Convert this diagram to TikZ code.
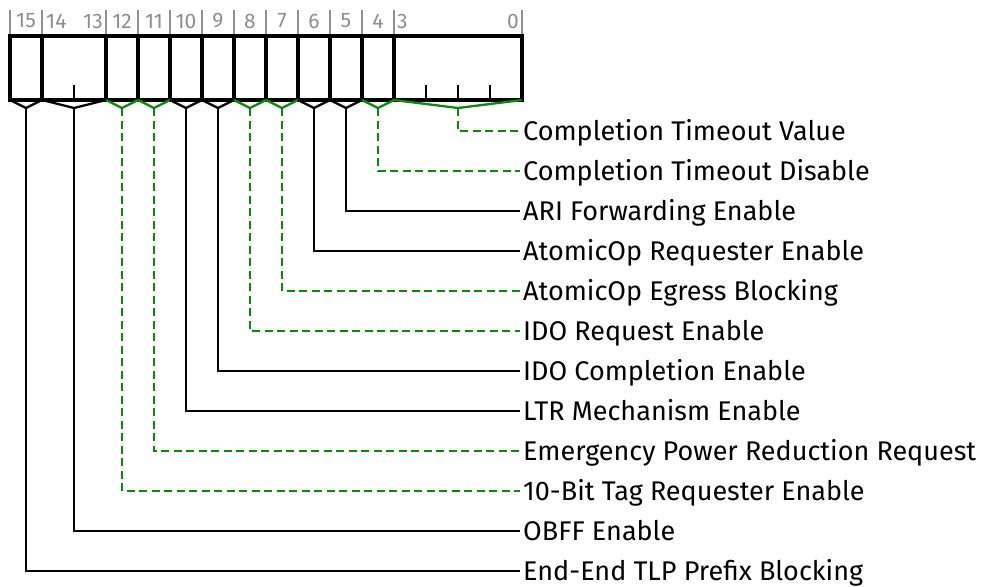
\documentclass[tikz,border=0pt]{standalone}
\usepackage{fontspec}
\setmainfont{Fira Sans}
\usetikzlibrary{positioning}
\definecolor{regink}{HTML}{000000}
\definecolor{reggreen}{HTML}{0A8A0A}
\definecolor{reggray}{HTML}{8E8E8E}
\tikzset{
  reg box/.style={draw=regink, line width=3.2pt, line join=miter},
  reg tick/.style={draw=regink, line width=2.3pt},
  reg mark/.style={draw=reggray, line width=2.3pt},
  reg bitnum/.style={font=\fontsize{21}{22}\selectfont, text=reggray, inner sep=0pt},
  reg brace/.style={draw=regink, line width=2.3pt, line join=miter},
  reg brace rsvd/.style={reg brace, draw=reggreen},
  reg lead/.style={draw=regink, line width=2.3pt},
  reg lead rsvd/.style={draw=reggreen, line width=2.3pt, dash pattern=on 8pt off 4.5pt},
  reg label/.style={anchor=west, font=\fontsize{27}{28}\selectfont, text=regink,
    inner xsep=3pt, inner ysep=0pt, text height=18pt, text depth=0pt}
}

\begin{document}
\begin{tikzpicture}[x=1pt, y=-1pt]
  \useasboundingbox (0,0) rectangle (981,586);
  % bit numbers
  \foreach \bx in {10,42,106,138,170,202,234,266,298,330,362,394,522}
    \draw[reg mark] (\bx,10) -- (\bx,36);
  \node[reg bitnum] (n15) at (26,21) {15};
  \node[reg bitnum, anchor=west] (n14) at (46,21) {14};
  \node[reg bitnum, anchor=east] (n13) at (103,21) {13};
  \node[reg bitnum] (n12) at (122,21) {12};
  \node[reg bitnum] (n11) at (154,21) {11};
  \node[reg bitnum] (n10) at (186,21) {10};
  \node[reg bitnum] (n9) at (218,21) {9};
  \node[reg bitnum] (n8) at (250,21) {8};
  \node[reg bitnum] (n7) at (282,21) {7};
  \node[reg bitnum] (n6) at (314,21) {6};
  \node[reg bitnum] (n5) at (346,21) {5};
  \node[reg bitnum] (n4) at (378,21) {4};
  \node[reg bitnum, anchor=west] (n3) at (397,21) {3};
  \node[reg bitnum, anchor=east] (n0) at (519,21) {0};
  % register
  \foreach \bx in {42,106,138,170,202,234,266,298,330,362,394}
    \draw[reg box] (\bx,36) -- (\bx,100);
  \foreach \bx in {74,426,458,490}
    \draw[reg tick] (\bx,85) -- (\bx,100);
  \draw[reg box] (10,36) rectangle (522,100);
  % field tips
  \coordinate (t15) at (26,108);
  \coordinate (t14) at (74,108);
  \coordinate (t12) at (122,108);
  \coordinate (t11) at (154,108);
  \coordinate (t10) at (186,108);
  \coordinate (t9) at (218,108);
  \coordinate (t8) at (250,108);
  \coordinate (t7) at (282,108);
  \coordinate (t6) at (314,108);
  \coordinate (t5) at (346,108);
  \coordinate (t4) at (378,108);
  \coordinate (t3) at (458,108);
  \draw[reg brace] (10,100) -- (t15) -- (42,100);
  \draw[reg brace] (42,100) -- (t14) -- (106,100);
  \draw[reg brace rsvd] (106,100) -- (t12) -- (138,100);
  \draw[reg brace rsvd] (138,100) -- (t11) -- (170,100);
  \draw[reg brace] (170,100) -- (t10) -- (202,100);
  \draw[reg brace] (202,100) -- (t9) -- (234,100);
  \draw[reg brace rsvd] (234,100) -- (t8) -- (266,100);
  \draw[reg brace rsvd] (266,100) -- (t7) -- (298,100);
  \draw[reg brace] (298,100) -- (t6) -- (330,100);
  \draw[reg brace] (330,100) -- (t5) -- (362,100);
  \draw[reg brace rsvd] (362,100) -- (t4) -- (394,100);
  \draw[reg brace rsvd] (394,100) -- (t3) -- (522,100);
  % field names
  \node[reg label] (l3) at (520,131) {Completion Timeout Value};
  \node[reg label] (l4) at (520,171) {Completion Timeout Disable};
  \node[reg label] (l5) at (520,211) {ARI Forwarding Enable};
  \node[reg label] (l6) at (520,251) {AtomicOp Requester Enable};
  \node[reg label] (l7) at (520,291) {AtomicOp Egress Blocking};
  \node[reg label] (l8) at (520,331) {IDO Request Enable};
  \node[reg label] (l9) at (520,371) {IDO Completion Enable};
  \node[reg label] (l10) at (520,411) {LTR Mechanism Enable};
  \node[reg label] (l11) at (520,451) {Emergency Power Reduction Request};
  \node[reg label] (l12) at (520,491) {10-Bit Tag Requester Enable};
  \node[reg label] (l14) at (520,531) {OBFF Enable};
  \node[reg label] (l15) at (520,571) {End-End TLP Prefix Blocking};
  \draw[reg lead rsvd] (t3) |- (l3.west);
  \draw[reg lead rsvd] (t4) |- (l4.west);
  \draw[reg lead] (t5) |- (l5.west);
  \draw[reg lead] (t6) |- (l6.west);
  \draw[reg lead rsvd] (t7) |- (l7.west);
  \draw[reg lead rsvd] (t8) |- (l8.west);
  \draw[reg lead] (t9) |- (l9.west);
  \draw[reg lead] (t10) |- (l10.west);
  \draw[reg lead rsvd] (t11) |- (l11.west);
  \draw[reg lead rsvd] (t12) |- (l12.west);
  \draw[reg lead] (t14) |- (l14.west);
  \draw[reg lead] (t15) |- (l15.west);
\end{tikzpicture}
\end{document}
